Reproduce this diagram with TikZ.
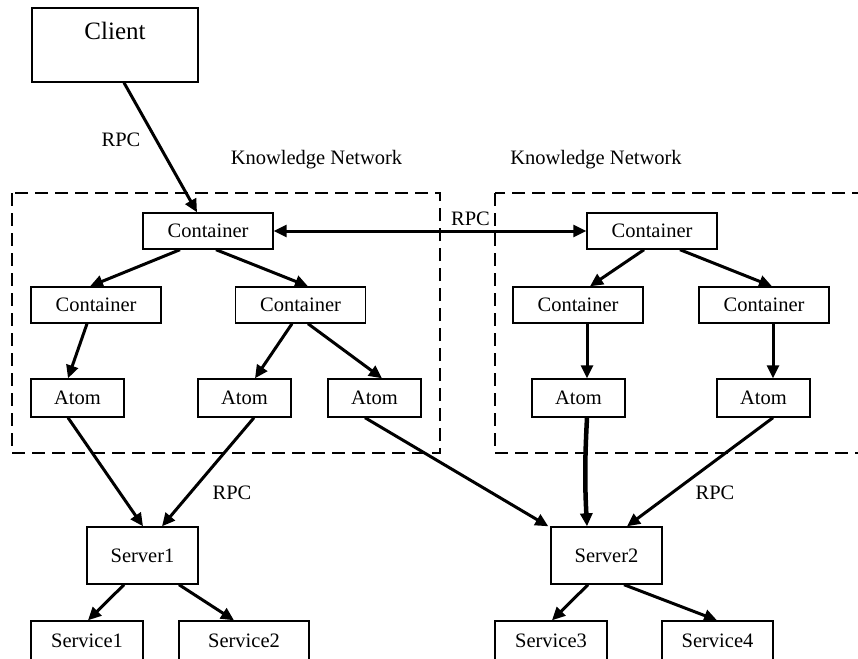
\documentclass[tikz,border=0pt]{standalone}
\usepackage{fontspec}
\setmainfont{Liberation Serif}
\usetikzlibrary{arrows.meta}
\begin{document}
\begin{tikzpicture}[x=1pt,y=-1pt,
  box/.style={draw, line width=1.4pt, inner sep=0pt, font=\fontsize{20.5}{24}\selectfont},
  cbox/.style={box, minimum width=130pt, minimum height=36pt},
  abox/.style={box, minimum width=93pt, minimum height=38pt},
  sbox/.style={box, minimum width=111pt, minimum height=57pt},
  vbox/.style={box, minimum height=40pt},
  link/.style={line width=3pt, -{Triangle[length=13pt,width=12pt]}},
  region/.style={draw, line width=2.8pt, dash pattern=on 13pt off 7pt},
  lbl/.style={font=\fontsize{20.5}{24}\selectfont, inner sep=0pt}]
\useasboundingbox (0,0) rectangle (858,658);
\clip (0,0) rectangle (858,658);

% knowledge network regions
\draw[region] (12,193) rectangle (440,453);
\draw[region] (495,193) rectangle (900,453);

% client
\node[box, minimum width=166pt, text height=32pt, text depth=42pt,
      font=\fontsize{25}{29}\selectfont] (client) at (115,45) {Client};

% left network
\node[cbox] (ctl) at (208,231) {Container};
\node[cbox] (cl1) at (96,305) {Container};
\node[cbox] (cl2) at (300.5,305) {Container};
\node[abox] (a1) at (77.5,398) {Atom};
\node[abox] (a2) at (244.5,398) {Atom};
\node[abox] (a3) at (374.5,398) {Atom};

% right network
\node[cbox] (ctr) at (652,231) {Container};
\node[cbox] (cr1) at (578,305) {Container};
\node[cbox] (cr2) at (764,305) {Container};
\node[abox] (ar1) at (578.5,398) {Atom};
\node[abox] (ar2) at (763.5,398) {Atom};

% servers and services
\node[sbox] (s1) at (142.5,555.5) {Server1};
\node[sbox] (s2) at (606.5,555.5) {Server2};
\node[vbox, minimum width=112pt] (v1) at (87,641) {Service1};
\node[vbox, minimum width=130pt] (v2) at (244,641) {Service2};
\node[vbox, minimum width=112pt] (v3) at (551,641) {Service3};
\node[vbox, minimum width=111pt] (v4) at (717.5,641) {Service4};

% labels
\node[lbl] (rpc0) at (121,140) {RPC};
\node[lbl] (kn1) at (316.5,160) {Knowledge Network};
\node[lbl] (kn2) at (596,160) {Knowledge Network};
\node[lbl] (rpc1) at (470.5,219) {RPC};
\node[lbl] (rpc2) at (232,493) {RPC};
\node[lbl] (rpc3) at (715,493) {RPC};

% connectors
\draw[link] ([xshift=9pt]client.south) -- ([xshift=-11pt]ctl.north);
\draw[line width=3pt, {Triangle[length=13pt,width=12pt]}-{Triangle[length=13pt,width=12pt]}] (ctl) -- (ctr);

\draw[link] ([xshift=-28pt]ctl.south) -- ([xshift=-6pt]cl1.north);
\draw[link] ([xshift=8pt]ctl.south) -- ([xshift=7.5pt]cl2.north);
\draw[link] ([xshift=-9pt]cl1.south) -- ([xshift=-9.5pt]a1.north);
\draw[link] ([xshift=-8.5pt]cl2.south) -- ([xshift=10.5pt]a2.north);
\draw[link] ([xshift=7.5pt]cl2.south) -- ([xshift=7.5pt]a3.north);

\draw[link] ([xshift=-8pt]ctr.south) -- ([xshift=12pt]cr1.north);
\draw[link] ([xshift=28pt]ctr.south) -- ([xshift=8pt]cr2.north);
\draw[link] ([xshift=9pt]cr1.south) -- ([xshift=8.5pt]ar1.north);
\draw[link] ([xshift=9pt]cr2.south) -- ([xshift=9.5pt]ar2.north);

\draw[link] ([xshift=-9.5pt]a1.south) -- ([xshift=0.5pt]s1.north);
\draw[link] ([xshift=9.5pt]a2.south) -- ([xshift=19.5pt]s1.north);
\draw[link] ([xshift=-9.5pt]a3.south) -- ([xshift=-2pt]s2.north west);
\draw[link, line width=4.5pt] ([xshift=8.5pt]ar1.south) to[bend right=3] ([xshift=-19.5pt]s2.north);
\draw[link] ([xshift=9.5pt]ar2.south) -- ([xshift=20.5pt]s2.north);

\draw[link] ([xshift=-18.5pt]s1.south) -- ([xshift=1pt]v1.north);
\draw[link] ([xshift=36.5pt]s1.south) -- ([xshift=-10pt]v2.north);
\draw[link] ([xshift=-18.5pt]s2.south) -- ([xshift=1pt]v3.north);
\draw[link] ([xshift=17.5pt]s2.south) -- ([xshift=-0.5pt]v4.north);
\end{tikzpicture}
\end{document}
